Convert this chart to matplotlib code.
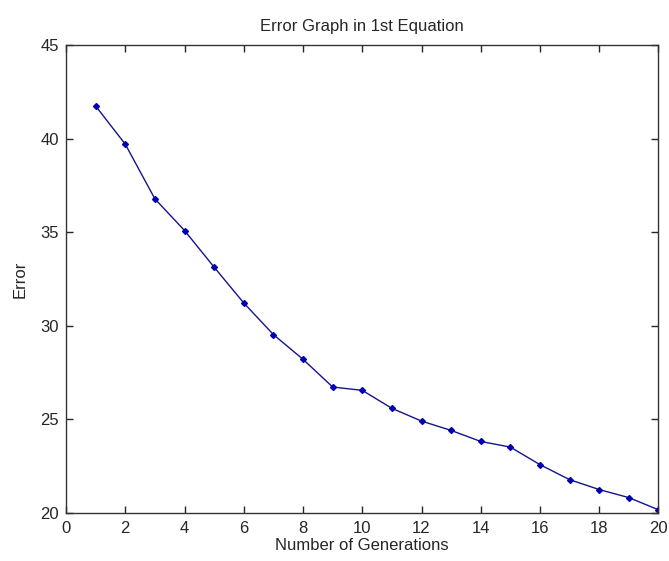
import numpy as np
import matplotlib.pyplot as plt

plt.rcParams['font.family'] = ['Liberation Sans', 'DejaVu Sans']

generations = np.arange(1, 21)
error = [41.74, 39.70, 36.78, 35.09, 33.13, 31.22, 29.53, 28.21, 26.73, 26.55,
         25.59, 24.91, 24.41, 23.82, 23.52, 22.58, 21.78, 21.25, 20.82, 20.17]

fig = plt.figure(figsize=(6.69, 5.61), dpi=100)
ax = fig.add_axes([0.0987, 0.0856, 0.8856, 0.8342])

ax.plot(generations, error, '-', color='#14148c', lw=1.0,
        marker='D', markersize=3, markerfacecolor='#0000b0', markeredgecolor='#0000b0')

ax.set_xlim(0, 20)
ax.set_ylim(20, 45)
ax.set_xticks(range(0, 21, 2))
ax.set_yticks(range(20, 46, 5))
ax.tick_params(direction='in', length=5, width=1, top=True, right=True,
               labelsize=12, colors='#262626')
ax.tick_params(axis='x', pad=6)
ax.tick_params(axis='y', pad=5)
for s in ax.spines.values():
    s.set_linewidth(1.0)
    s.set_color('#333333')

ax.set_title('Error Graph in 1st Equation', fontsize=12, pad=10, color='#262626')
ax.set_xlabel('Number of Generations', fontsize=12, labelpad=1, color='#262626')
ax.set_ylabel('Error', fontsize=12, labelpad=9, color='#262626')

fig.savefig('out.png', dpi=100)
